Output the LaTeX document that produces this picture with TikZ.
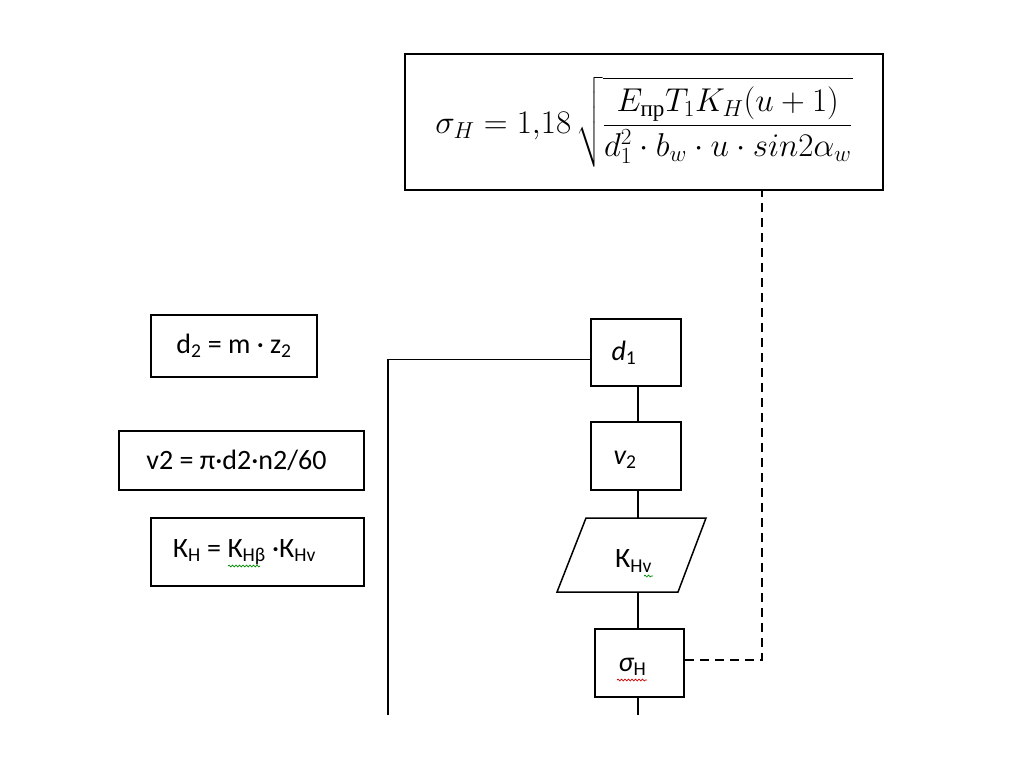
\RequirePackage{fix-cm}
\documentclass[tikz,border=0pt]{standalone}
\usepackage{amsmath}
\usepackage[no-math]{fontspec}
\setmainfont{Carlito}
\newfontfamily\cyrserif{Liberation Serif}
\usetikzlibrary{decorations.pathmorphing}
\tikzset{
  box/.style={draw, line width=1.6pt, inner sep=0pt, font=\fontsize{28}{32}\selectfont},
  lbl/.style={inner sep=0pt, font=\fontsize{28}{32}\selectfont},
  conn/.style={line width=1.5pt},
  dconn/.style={line width=2pt, dash pattern=on 9pt off 6pt},
  wavyg/.style={draw=green!55!black, line width=0.7pt, decorate, decoration={snake, amplitude=0.9pt, segment length=3.5pt}},
  wavyr/.style={draw=red!80!black, line width=0.7pt, decorate, decoration={snake, amplitude=0.9pt, segment length=3.5pt}},
}
\begin{document}
\begin{tikzpicture}[x=1pt,y=-1pt]
\useasboundingbox (0,0) rectangle (1024,767);
\fill[white] (0,0) rectangle (1024,767);
% formula
\node[box, minimum width=478, minimum height=136] (formula) at (644,122)
  {\fontsize{33}{38}\selectfont$\displaystyle \sigma_H = 1{,}18\,\sqrt{\frac{E_{\text{\cyrserif пр}}T_1K_H(u+1)}{d_1^2\cdot b_w\cdot u\cdot sin2\alpha_w}}$};
% left formulas
\node[box, minimum width=166, minimum height=62] (d2eq) at (234,346) {d\textsubscript{2} = m · z\textsubscript{2}};
\node[box, minimum width=245, minimum height=59] (v2eq) at (241.5,460.5) {\hspace*{-10pt}v2 = π·d2·n2/60};
\node[box, minimum width=213, minimum height=68] (kheq) at (257.5,552) {\hspace*{-26pt}К\textsubscript{Н} = К\textsubscript{Нβ} ·К\textsubscript{Нv}};
% chain
\node[box, minimum width=90, minimum height=67] (d1) at (636,352.5) {\hspace*{-24pt}\itshape d\textsubscript{\upshape 1}};
\node[box, minimum width=90, minimum height=68] (v2) at (636,456) {};
\node[lbl] (v2t) at (625,460) {\itshape v\textsubscript{\upshape 2}};
\node[inner sep=0pt, minimum width=121, minimum height=74] (kh) at (631.5,555) {};
\node[lbl] (kht) at (633.5,561) {К\textsubscript{Нv}};
\draw[line width=1.5pt] (586,518) -- (706,518) -- (678,592) -- (557,592) -- cycle;
\node[box, minimum width=89, minimum height=68] (sig) at (639.5,663) {};
\node[lbl] (sigt) at (632.5,667) {\itshape σ\textsubscript{\upshape Н}};
\coordinate (bot) at (639.5,715);
\coordinate (lbot) at (388,715);
\coordinate (fd) at (762,190);
% connectors
\draw[conn] (d1.south -| 638,0) -- (v2.north -| 638,0);
\draw[conn] (v2.south -| 638,0) -- (kh.north -| 638,0);
\draw[conn] (kh.south -| 638,0) -- (sig.north -| 638,0);
\draw[conn] (sig.south -| 638,0) -- (bot -| 638,0);
\draw[conn] (d1.west) ++(0,7) -| (lbot);
\draw[dconn] (sig.east) ++(0,-3) -| (fd);
% spell-check marks
\draw[wavyg] (228,566) -- (260,566);
\draw[wavyg] (644,576) -- (653,576);
\draw[wavyr] (617,680) -- (647,680);
\end{tikzpicture}
\end{document}
